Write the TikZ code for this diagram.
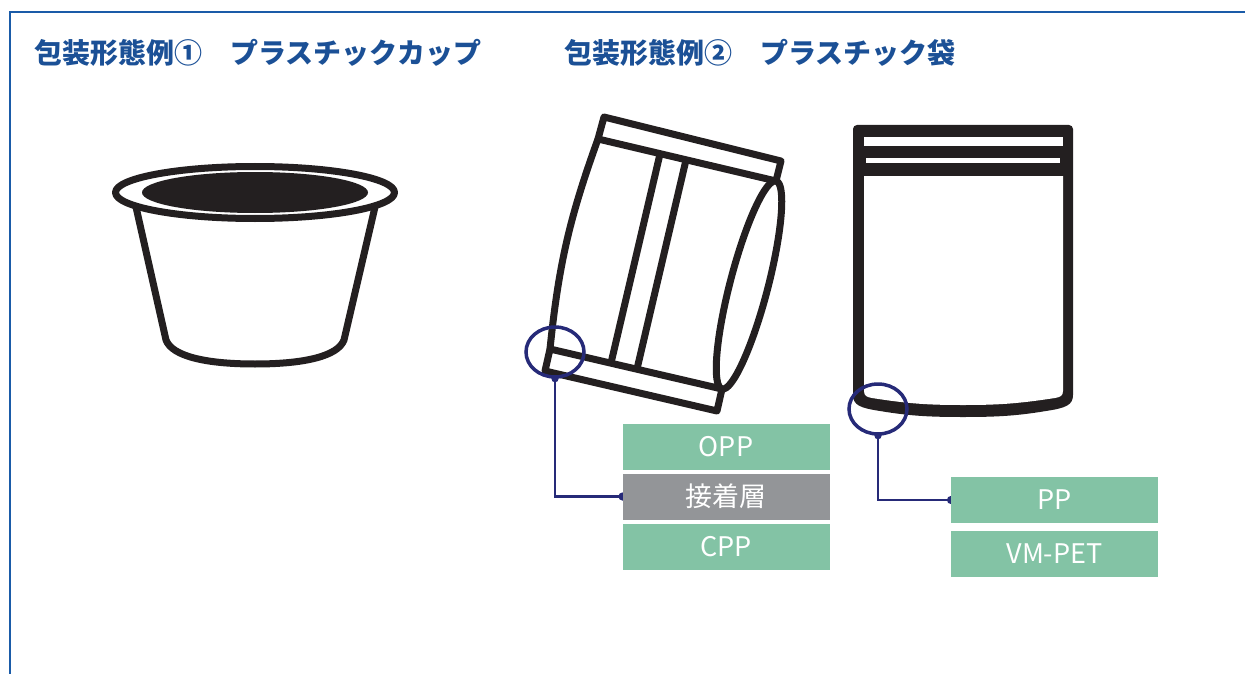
\documentclass[tikz,border=0pt]{standalone}
\usepackage{fontspec}
\setmainfont{Noto Sans CJK JP}
\usepackage{tikz}
\usetikzlibrary{shapes.geometric,arrows.meta,positioning,backgrounds}
\definecolor{frameblue}{HTML}{1A5BA8}
\definecolor{titleblue}{HTML}{1B5096}
\definecolor{inkblack}{HTML}{231F20}
\definecolor{ringnavy}{HTML}{262A78}
\definecolor{filmgreen}{HTML}{83C3A5}
\definecolor{adhgray}{HTML}{939598}

\begin{document}
\begin{tikzpicture}[x=1pt, y=-1pt,
  outline/.style={draw=inkblack, line width=7pt, line join=round},
  title/.style={anchor=west, inner sep=0pt, text=titleblue, font=\bfseries\fontsize{28}{34}\selectfont},
  layer/.style={fill=filmgreen, text=white, minimum width=207pt, minimum height=46pt, inner sep=0pt, outer sep=0pt, font=\fontsize{27}{32}\selectfont},
  ring/.style={ellipse, draw=ringnavy, line width=3.5pt, minimum width=58pt, minimum height=50pt, inner sep=0pt},
  link/.style={draw=ringnavy, line width=2.5pt, {Circle[length=7pt]}-{Circle[length=8pt]}, shorten <=-3.5pt, shorten >=-4pt}]

  \useasboundingbox (0,0) rectangle (1245,674);
  \draw[frameblue, line width=2.5pt] (1245,12) -- (10,12) -- (10,674);

  \node[title] (titleA) at (34,53) {包装形態例①　プラスチックカップ};
  \node[title] (titleB) at (564,53) {包装形態例②　プラスチック袋};

  % cup
  \draw[outline] (136,207) -- (166,340) .. controls (172,356) and (205,364) .. (255,364)
    .. controls (305,364) and (338,356) .. (344,340) -- (375,207);
  \draw[outline, fill=white] (255,192.5) ellipse [x radius=139.5, y radius=26];
  \fill[inkblack] (255,192.5) ellipse [x radius=113, y radius=20.5];

  % tilted pouch
  \coordinate (ta) at (604,117);
  \coordinate (tb) at (781,161);
  \coordinate (tc) at (776,181);
  \coordinate (td) at (598,139);
  \coordinate (be) at (550,349);
  \coordinate (bf) at (722,389);
  \coordinate (bg) at (545,371);
  \coordinate (bh) at (717,411);
  \draw[outline] (ta) -- (tb) -- (tc) -- (td) -- cycle;
  \draw[outline] (be) -- (bf) -- (bh) -- (bg) -- cycle;
  \draw[outline] (td) to[bend right=7] (be);
  \draw[outline] (660,154) -- (611,363);
  \draw[outline] (686,160) -- (637,369);
  \draw[outline, rotate around={75.4:(749,285)}] (749,285) ellipse [x radius=107.5, y radius=19];

  % stand pouch with zipper
  \fill[inkblack] (853,395) {[rounded corners=4pt] -- (853,125) -- (1073,125)} -- (1073,395)
    .. controls (1073,405) and (1066,408) .. (1046,411) .. controls (1016,416) and (996,417) .. (963,417)
    .. controls (930,417) and (910,416) .. (880,411) .. controls (860,408) and (853,405) .. (853,395) -- cycle;
  \fill[white] (864,176) -- (864,391) .. controls (864,396) and (867,397) .. (872,398)
    .. controls (910,404) and (930,405) .. (963,405) .. controls (996,405) and (1016,404) .. (1055,398)
    .. controls (1060,397) and (1063,396) .. (1063,391) -- (1063,176) -- cycle;
  \fill[white] (864,137) rectangle (1063,146);
  \fill[white] (866,158) rectangle (1060,163);

  \node[ring] (ringA) at (555,352) {};
  \node[ring] (ringB) at (878,409) {};

  \node[layer] (opp) at (726,446.5) {OPP};
  \node[layer, fill=adhgray, below=4pt of opp] (adh) {接着層};
  \node[layer, below=4pt of adh] (cpp) {CPP};
  \node[layer] (pp) at (1054.5,500) {PP};
  \node[layer, below=8pt of pp] (vmpet) {VM-PET};

  \begin{scope}[on background layer]
    \draw[link] (ringA.south) |- (adh.west);
    \draw[link] (ringB.south) |- (pp.west);
  \end{scope}
\end{tikzpicture}
\end{document}
